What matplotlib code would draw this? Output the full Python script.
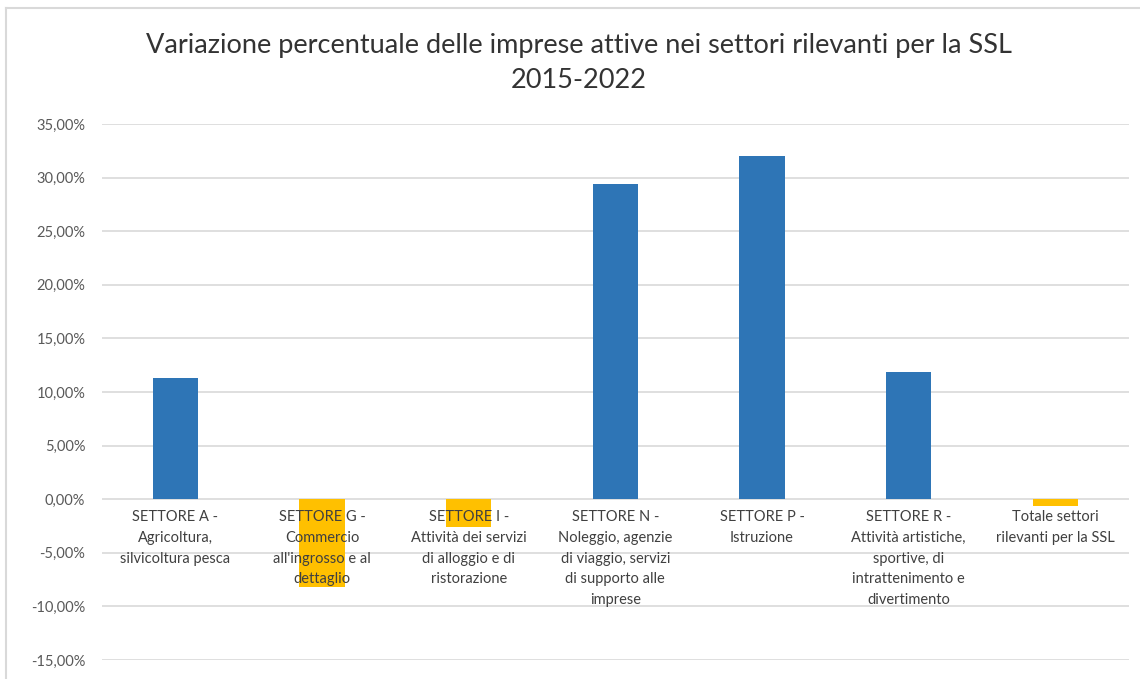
import numpy as np
import matplotlib.pyplot as plt
from matplotlib.lines import Line2D
from matplotlib.ticker import FuncFormatter

plt.rcParams['font.family'] = ['Lato', 'DejaVu Sans']

# dati
settori = [
    "SETTORE A -\nAgricoltura,\nsilvicoltura pesca",
    "SETTORE G -\nCommercio\nall'ingrosso e al\ndettaglio",
    "SETTORE I -\nAttività dei servizi\ndi alloggio e di\nristorazione",
    "SETTORE N -\nNoleggio, agenzie\ndi viaggio, servizi\ndi supporto alle\nimprese",
    "SETTORE P -\nIstruzione",
    "SETTORE R -\nAttività artistiche,\nsportive, di\nintrattenimento e\ndivertimento",
    "Totale settori\nrilevanti per la SSL",
]
variazione = [11.3, -8.2, -2.6, 29.4, 32.0, 11.9, -0.6]
y_ticks = [-15, -10, -5, 0, 5, 10, 15, 20, 25, 30, 35]

titolo = "Variazione percentuale delle imprese attive nei settori rilevanti per la SSL\n2015-2022"

blu = '#2E75B6'
giallo = '#FFC000'
grigio = '#D9D9D9'

fig = plt.figure(figsize=(11.4, 6.79), dpi=100)
ax = fig.add_axes([0.0895, 0.028, 0.9005, 0.7894])

x = np.arange(len(settori))
colori = [blu if v >= 0 else giallo for v in variazione]

ax.set_ylim(-15, 35)
ax.set_xlim(-0.5, len(settori) - 0.5)
ax.set_yticks(y_ticks)
ax.yaxis.set_major_formatter(FuncFormatter(lambda v, p: f"{v:.2f}%".replace('.', ',')))
ax.grid(axis='y', color=grigio, linewidth=1.2)
ax.set_axisbelow(True)
ax.tick_params(axis='y', length=0, labelsize=10.5, labelcolor='#595959', pad=12)
ax.set_xticks([])
for s in ax.spines.values():
    s.set_visible(False)

ax.bar(x, variazione, width=0.31, color=colori, zorder=2)

for xi, lab in zip(x, settori):
    ax.text(xi, -1.0, lab, ha='center', va='top', fontsize=10.5,
            color='#404040', linespacing=1.62, zorder=3)

fig.text(0.508, 0.952, titolo, ha='center', va='top', fontsize=19.5,
         color='#333333', linespacing=1.5)

# cornice del grafico
fig.add_artist(Line2D([6 / 1140, 6 / 1140], [0, 1 - 8 / 679], color=grigio, lw=1.5))
fig.add_artist(Line2D([6 / 1140, 1], [1 - 8 / 679, 1 - 8 / 679], color=grigio, lw=1.5))

fig.savefig('out.png', dpi=100, facecolor='white')
